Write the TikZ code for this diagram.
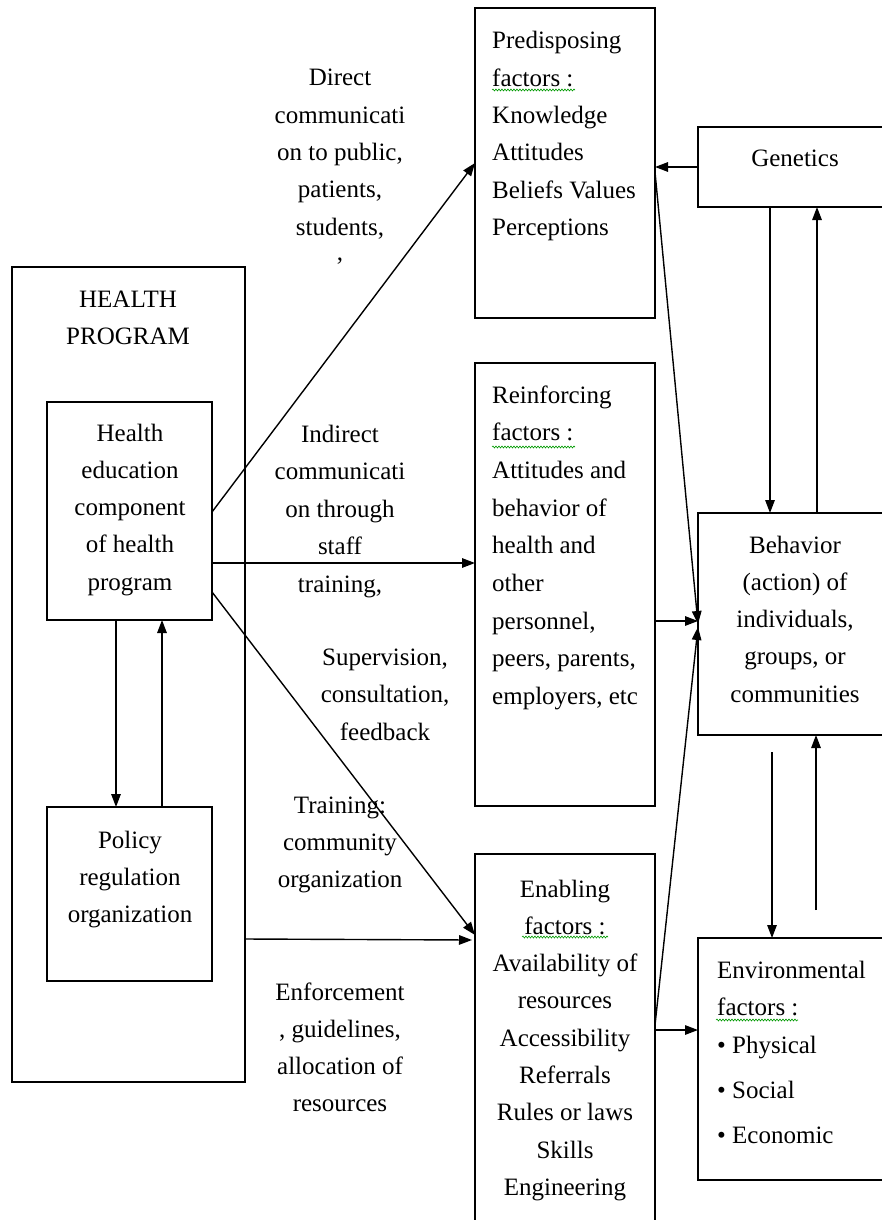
\documentclass[tikz,border=0pt]{standalone}
\usepackage{fontspec}
\setmainfont{Liberation Serif}
\usetikzlibrary{arrows.meta,calc,decorations.pathmorphing}
\newcommand\mytab[2]{\begin{tabular}[t]{@{}#1@{}}#2\end{tabular}}
\begin{document}
\begin{tikzpicture}[x=1pt,y=-1pt,
  box/.style={draw, line width=1.6pt, rectangle, inner sep=0pt, outer sep=0pt, anchor=north west},
  arr/.style={line width=1.4pt, -{Triangle[length=13pt,width=9.5pt]}},
  txt/.style={inner sep=0pt, anchor=base, font=\fontsize{25}{37.3}\selectfont},
  sq/.style={draw=green!60!black, line width=0.6pt, decorate, decoration={snake, amplitude=1pt, segment length=3pt}}
]
\useasboundingbox (0,0) rectangle (882,1220);
\clip (0,0) rectangle (882,1220);

% boxes
\node[box, minimum width=233pt, minimum height=815pt] (hp) at (12,267) {};
\node[box, minimum width=165pt, minimum height=218pt] (he) at (47,402) {};
\node[box, minimum width=165pt, minimum height=174pt] (pol) at (47,807) {};
\node[box, minimum width=180pt, minimum height=310pt] (pre) at (475,8) {};
\node[box, minimum width=180pt, minimum height=443pt] (rei) at (475,363) {};
\node[box, minimum width=180pt, minimum height=376pt] (ena) at (475,854) {};
\node[box, minimum width=202pt, minimum height=80pt] (gen) at (698,127) {};
\node[box, minimum width=202pt, minimum height=222pt] (beh) at (698,513) {};
\node[box, minimum width=202pt, minimum height=242pt] (env) at (698,938) {};

% box texts
\node[txt] (hpt) at (128,307) {\mytab{c}{HEALTH\\PROGRAM}};
\node[txt] (het) at (130,441) {\mytab{c}{Health\\education\\component\\of health\\program}};
\node[txt] (polt) at (130,848) {\mytab{c}{Policy\\regulation\\organization}};
\node[txt, anchor=base west] (pret) at (492,49) {\mytab{l}{Predisposing\\factors :\\Knowledge\\Attitudes\\Beliefs Values\\Perceptions}};
\node[txt, anchor=base west, font=\fontsize{25}{37.7}\selectfont] (reit) at (492,403) {\mytab{l}{Reinforcing\\factors :\\Attitudes and\\behavior of\\health and\\other\\personnel,\\peers, parents,\\employers, etc}};
\node[txt] (enat) at (565,897) {\mytab{c}{Enabling\\factors :\\Availability of\\resources\\Accessibility\\Referrals\\Rules or laws\\Skills\\Engineering}};
\node[txt] (gent) at (795,166) {Genetics};
\node[txt] (beht) at (795,553) {\mytab{c}{Behavior\\(action) of\\individuals,\\groups, or\\communities}};
\node[txt, anchor=base west] (envt) at (717,978) {\mytab{l}{Environmental\\factors :\\[0.7pt]• Physical\\[7.7pt]• Social\\[7.7pt]• Economic}};

% connector labels
\node[txt] (l1) at (340,86) {\mytab{c}{Direct\\communicati\\on to public,\\patients,\\students,\\[-12pt],}};
\node[txt, font=\fontsize{25}{37.5}\selectfont] (l2) at (340,442) {\mytab{c}{Indirect\\communicati\\on through\\staff\\training,}};
\node[txt, font=\fontsize{25}{37.5}\selectfont] (l3) at (385,665) {\mytab{c}{Supervision,\\consultation,\\feedback}};
\node[txt, font=\fontsize{25}{37}\selectfont] (l4) at (340,813) {\mytab{c}{Training:\\community\\organization}};
\node[txt] (l5) at (340,1000) {\mytab{c}{Enforcement\\, guidelines,\\allocation of\\resources}};

% spell-check squiggles
\draw[sq] (492,90) -- (575,90);
\draw[sq] (492,447) -- (575,447);
\draw[sq] (522,937) -- (608,937);
\draw[sq] (716,1020) -- (798,1020);

% connectors
\draw[arr] ($(he.north east)+(0,110)$) -- ($(pre.north west)+(0,155)$);
\draw[arr] ($(he.north east)+(0,161)$) -- ($(rei.north west)+(0,200)$);
\draw[arr] ($(he.north east)+(0,190)$) -- ($(ena.north west)+(0,81)$);
\draw[arr] ($(hp.north east)+(0,672)$) -- ($(ena.north west)+(-3,86)$);
\draw[arr] ($(he.south west)+(69,0)$) -- ($(pol.north west)+(69,0)$);
\draw[arr] ($(pol.north west)+(115,0)$) -- ($(he.south west)+(115,0)$);
\draw[arr] ($(gen.north west)+(0,40)$) -- ($(pre.north east)+(0,159)$);
\draw[arr] ($(pre.north east)+(0,164)$) -- ($(beh.north west)+(0,111)$);
\draw[arr] ($(rei.north east)+(0,258)$) -- ($(beh.north west)+(0,108)$);
\draw[arr] ($(ena.north east)+(0,171)$) -- ($(beh.north west)+(0,114)$);
\draw[arr] ($(ena.north east)+(0,176)$) -- ($(env.north west)+(0,92)$);
\draw[arr] ($(gen.south west)+(72,0)$) -- ($(beh.north west)+(72,0)$);
\draw[arr] ($(beh.north west)+(119,0)$) -- ($(gen.south west)+(119,0)$);
\draw[arr, shorten <=17pt] ($(beh.south west)+(74,0)$) -- ($(env.north west)+(74,0)$);
\draw[arr, shorten <=28pt] ($(env.north west)+(118,0)$) -- ($(beh.south west)+(118,0)$);
\end{tikzpicture}
\end{document}
